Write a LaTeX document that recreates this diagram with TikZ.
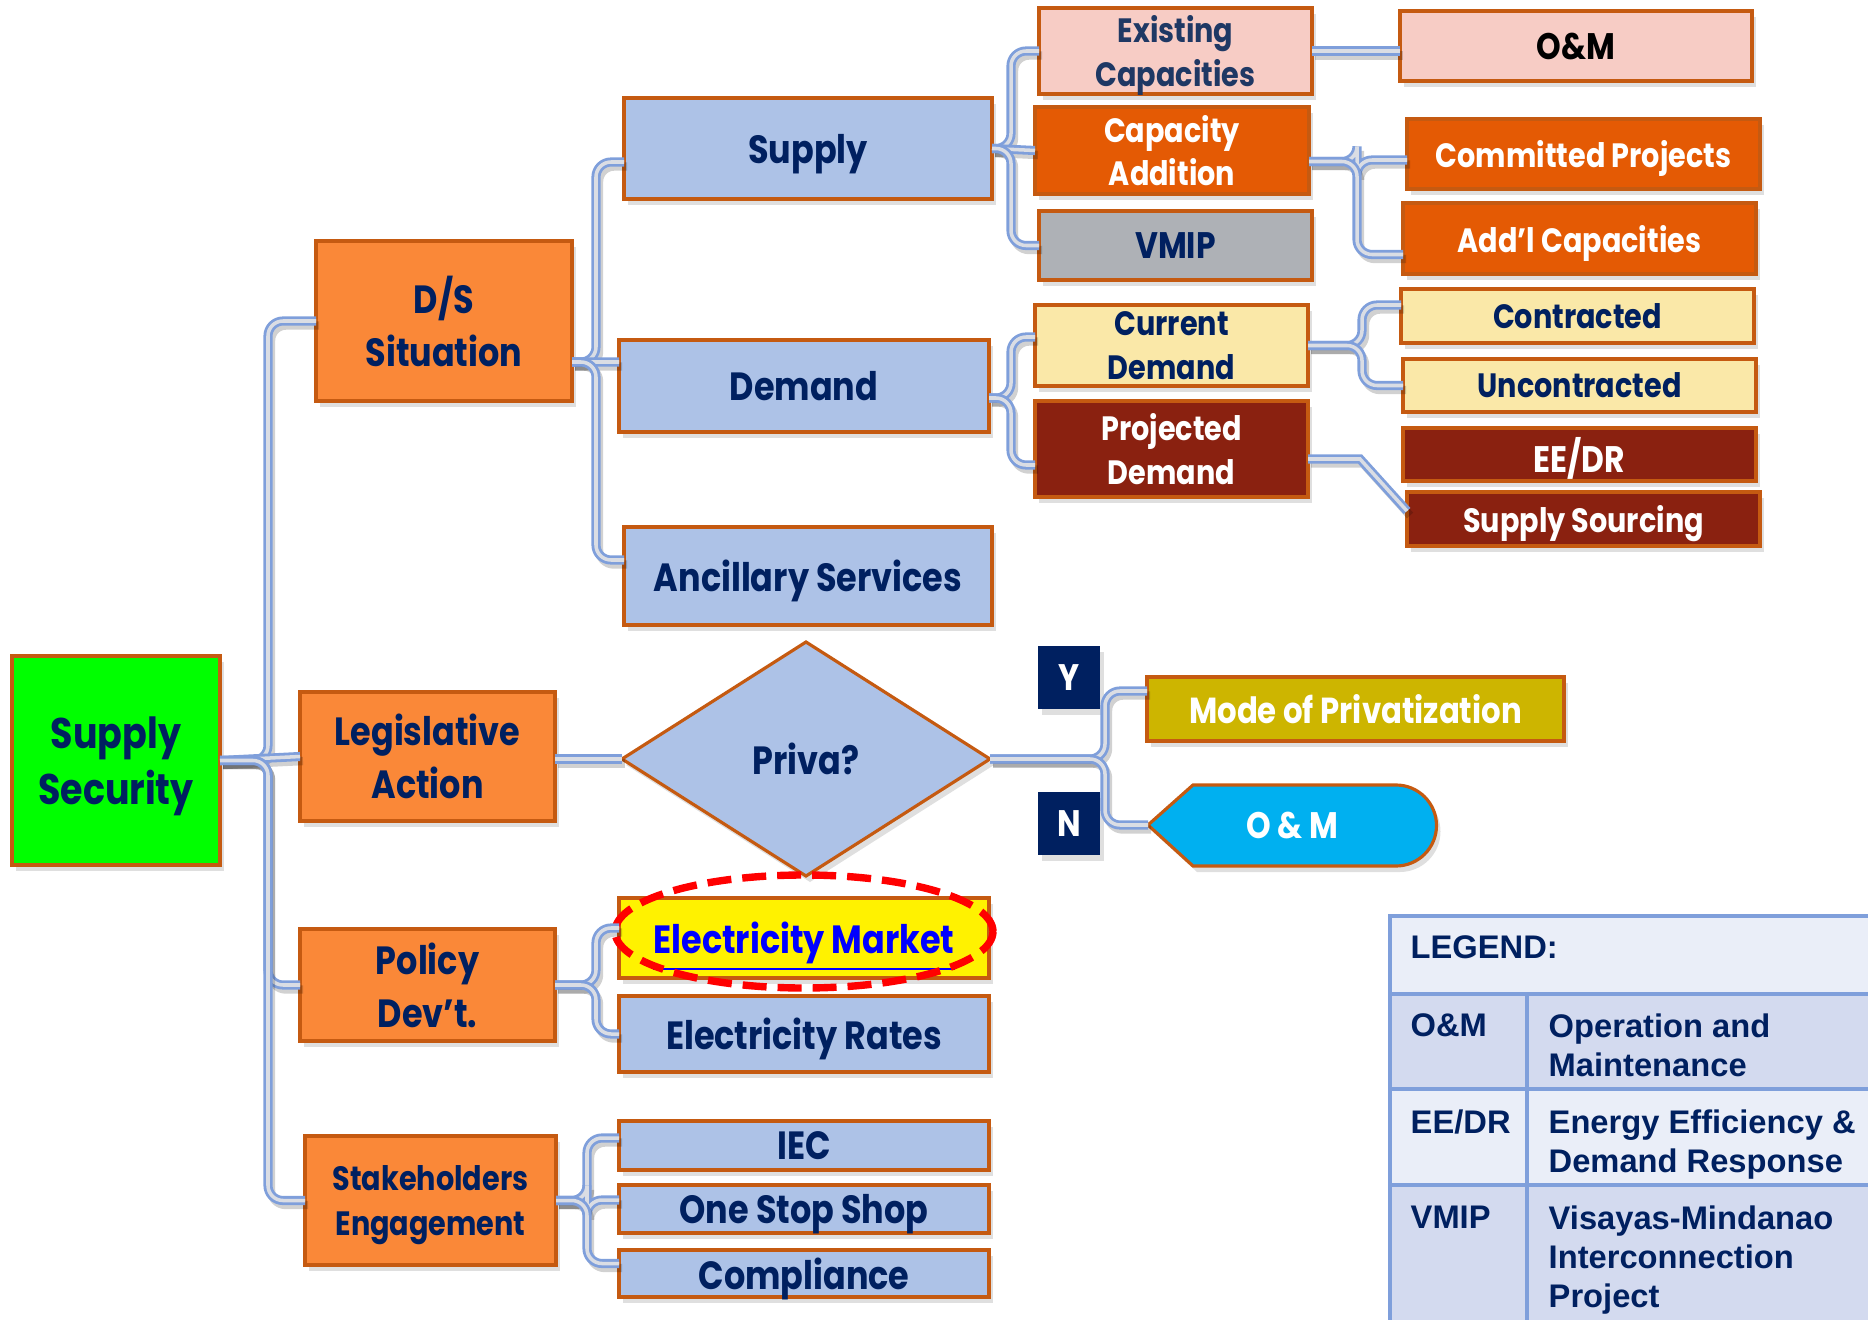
\documentclass[tikz,border=0pt]{standalone}
\usepackage{fontspec}
\newfontfamily\boxfont[FakeStretch=0.85]{Poppins}
\newfontfamily\legfont{Liberation Sans}
\usetikzlibrary{shapes.geometric, shadows, positioning}

\definecolor{navy}{RGB}{0,32,96}
\definecolor{rim}{RGB}{197,90,17}
\definecolor{linkblue}{RGB}{127,159,219}
\definecolor{linkcore}{RGB}{218,221,228}
\definecolor{boxgreen}{RGB}{0,255,0}
\definecolor{boxorange}{RGB}{250,136,56}
\definecolor{boxblue}{RGB}{173,194,231}
\definecolor{boxpink}{RGB}{247,204,197}
\definecolor{boxrust}{RGB}{228,90,4}
\definecolor{boxgrey}{RGB}{174,177,182}
\definecolor{boxcream}{RGB}{250,232,168}
\definecolor{boxmaroon}{RGB}{138,33,16}
\definecolor{boxolive}{RGB}{205,181,0}
\definecolor{boxcyan}{RGB}{0,176,240}
\definecolor{leglight}{RGB}{234,238,248}
\definecolor{legdark}{RGB}{211,218,239}

\tikzset{
  box/.style={draw=rim, line width=0.9pt, inner sep=0pt, outer sep=0pt, align=center, text=navy, text depth=0pt,
    drop shadow={shadow xshift=0.4mm, shadow yshift=-0.6mm, opacity=0.25}},
  lvA/.style={box, font=\boxfont\bfseries\fontsize{12.2}{16}\selectfont},
  lvB/.style={box, font=\boxfont\bfseries\fontsize{11.2}{15}\selectfont},
  lvC/.style={box, font=\boxfont\bfseries\fontsize{11.2}{14}\selectfont},
  lvD/.style={box, font=\boxfont\bfseries\fontsize{9.6}{12.5}\selectfont},
  lvE/.style={box, font=\boxfont\bfseries\fontsize{9.6}{12.6}\selectfont},
  lvcap/.style={box, font=\boxfont\bfseries\fontsize{10.5}{12.5}\selectfont},
  link/.style={draw=linkblue, line width=0.8pt, double=linkcore, double distance=1pt, rounded corners=1.5mm,
    preaction={draw=black, opacity=0.18, line width=2.4pt, transform canvas={xshift=0.3mm, yshift=-0.45mm}}},
  hilite/.style={draw=red, line width=2.1pt, dash pattern=on 2.4mm off 1.1mm},
  legtext/.style={anchor=north west, inner sep=0pt, align=left, text=navy, font=\legfont\bfseries\fontsize{9.3}{11.1}\selectfont}
}

\begin{document}
\begin{tikzpicture}[x=1mm, y=-1mm]
\useasboundingbox (0,0) rectangle (186.8,132);

% root and second level
\node[lvA, fill=boxgreen, minimum width=20.8mm, minimum height=20.9mm] (ss) at (11.6,76.05) {Supply\\Security};
\node[lvB, fill=boxorange, minimum width=25.6mm, minimum height=16mm] (ds) at (44.4,32.1) {D/S\\Situation};
\node[lvB, fill=boxorange, minimum width=25.5mm, minimum height=12.9mm] (leg) at (42.75,75.65) {Legislative\\Action};
\node[lvB, fill=boxorange, minimum width=25.5mm, minimum height=11.2mm] (pol) at (42.75,98.5) {Policy\\Dev’t.};
\node[lvE, fill=boxorange, minimum width=25.1mm, minimum height=12.9mm] (stk) at (43.05,120.05) {Stakeholders\\Engagement};

% third level
\node[lvC, fill=boxblue, minimum width=36.8mm, minimum height=10.1mm] (sup) at (80.8,14.85) {Supply};
\node[lvC, fill=boxblue, minimum width=37mm, minimum height=9.2mm] (dem) at (80.4,38.6) {Demand};
\node[lvC, fill=boxblue, minimum width=36.8mm, minimum height=9.8mm] (anc) at (80.8,57.6) {Ancillary Services};
\node[lvC, diamond, fill=boxblue, minimum width=36.8mm, minimum height=23.4mm] (priva) at (80.6,75.9) {Priva?};
\node[lvC, fill=yellow, text=blue, minimum width=37mm, minimum height=8mm] (em) at (80.4,93.8) {\underline{Electricity Market}};
\node[lvC, fill=boxblue, minimum width=37mm, minimum height=7.6mm] (rates) at (80.4,103.4) {Electricity Rates};
\node[lvC, fill=boxblue, minimum width=37mm, minimum height=4.9mm] (iec) at (80.4,114.55) {IEC};
\node[lvC, fill=boxblue, minimum width=37mm, minimum height=4.8mm] (oss) at (80.4,120.9) {One Stop Shop};
\node[lvC, fill=boxblue, minimum width=37mm, minimum height=4.7mm] (comp) at (80.4,127.35) {Compliance};
\draw[hilite] ([yshift=0.65mm]em.center) ellipse [x radius=18.9mm, y radius=5.65mm];

% fourth level
\node[lvD, fill=boxpink, text={rgb,255:red,31;green,56;blue,100}, minimum width=27.3mm, minimum height=8.6mm] (exist) at (117.55,5.1) {Existing\\Capacities};
\node[lvD, fill=boxrust, text=white, minimum width=27.4mm, minimum height=8.7mm] (capadd) at (117.2,15.05) {Capacity\\Addition};
\node[lvcap, fill=boxgrey, minimum width=27.3mm, minimum height=6.9mm] (vmip) at (117.55,24.55) {VMIP};
\node[lvD, fill=boxcream, minimum width=27.3mm, minimum height=8.1mm] (cur) at (117.15,34.55) {Current\\Demand};
\node[lvD, fill=boxmaroon, text=white, minimum width=27.3mm, minimum height=9.6mm] (proj) at (117.15,44.9) {Projected\\Demand};

% fifth level
\node[lvcap, fill=boxpink, text=black, minimum width=35.2mm, minimum height=7mm] (om1) at (157.6,4.6) {O\&M};
\node[lvE, fill=boxrust, text=white, minimum width=35.3mm, minimum height=7mm] (com) at (158.35,15.4) {Committed Projects};
\node[lvE, fill=boxrust, text=white, minimum width=35.3mm, minimum height=7.1mm] (addl) at (157.95,23.85) {Add’l Capacities};
\node[lvE, fill=boxcream, minimum width=35.3mm, minimum height=5.4mm] (con) at (157.75,31.6) {Contracted};
\node[lvE, fill=boxcream, minimum width=35.3mm, minimum height=5.3mm] (unc) at (157.95,38.55) {Uncontracted};
\node[lvcap, fill=boxmaroon, text=white, minimum width=35.3mm, minimum height=5.3mm] (eedr) at (157.95,45.45) {EE/DR};
\node[lvE, fill=boxmaroon, text=white, minimum width=35.3mm, minimum height=5.4mm] (ssrc) at (158.35,51.9) {Supply Sourcing};

% privatization branch
\node[lvcap, draw=none, fill=navy, text=white, minimum width=6.2mm, minimum height=6.3mm] (yes) at (106.9,67.75) {Y};
\node[lvcap, draw=none, fill=navy, text=white, minimum width=6.2mm, minimum height=6.3mm] (no) at (106.9,82.35) {N};
\node[lvE, fill=boxolive, text=white, minimum width=41.7mm, minimum height=6.4mm, font=\boxfont\bfseries\fontsize{10.3}{12.5}\selectfont] (mode) at (135.55,70.9) {Mode of Privatization};
\draw[draw=rim, line width=0.9pt, fill=boxcyan, drop shadow={shadow xshift=0.4mm, shadow yshift=-0.6mm, opacity=0.25}]
  (114.8,82.5) -- (119.3,78.5) -- (139.6,78.5) arc[start angle=90, end angle=-90, radius=4.05mm] -- (119.3,86.6) -- cycle;
\coordinate (omtip) at (114.8,82.5);
\node[font=\boxfont\bfseries\fontsize{10.5}{12.5}\selectfont, text=white] (omtag) at (129.2,82.5) {O \& M};

% connectors
\draw[link] (ss.east) -- ++(4.8,0) |- (ds.west);
\draw[link] (ss.east) -- (leg.west);
\draw[link] (ss.east) -- ++(4.8,0) |- (pol.west);
\draw[link] (ss.east) -- ++(4.8,0) |- (stk.west);
\draw[link] ([yshift=-4.1mm]ds.east) -- ++(2.4,0) |- ([yshift=-1.35mm]sup.west);
\draw[link] ([yshift=-4.1mm]ds.east) -- ([yshift=2.4mm]dem.west);
\draw[link] ([yshift=-4.1mm]ds.east) -- ++(2.4,0) |- ([yshift=1.6mm]anc.west);
\draw[link] (sup.east) -- ++(1.9,0) |- (exist.west);
\draw[link] (sup.east) -- (capadd.west);
\draw[link] (sup.east) -- ++(1.9,0) |- (vmip.west);
\draw[link] ([yshift=-1.2mm]dem.east) -- ++(2.2,0) |- ([yshift=0.85mm]cur.west);
\draw[link] ([yshift=-1.2mm]dem.east) -- ++(2.2,0) |- ([yshift=-1.6mm]proj.west);
\draw[link] (exist.east) -- (exist.east -| om1.west);
\draw[link] ([yshift=-1.1mm]capadd.east) -- ++(4.8,0) |- ([yshift=-0.6mm]com.west);
\draw[link] ([yshift=-1.1mm]capadd.east) -- ++(4.8,0) |- ([yshift=-1.6mm]addl.west);
\draw[link] (cur.east) -- ++(5.4,0) |- ([yshift=1.1mm]con.west);
\draw[link] (cur.east) -- ++(5.4,0) |- (unc.west);
\draw[link, rounded corners=0pt] ([yshift=-1mm]proj.east) -- ++(5.2,0) -- ([yshift=0.8mm]ssrc.west);
\draw[link] (leg.east |- priva.west) -- (priva.west);
\draw[link] (priva.east) -- ++(11.5,0) |- ([yshift=1.8mm]mode.west);
\draw[link] (priva.east) -- ++(11.5,0) |- (omtip);
\draw[link] (pol.east) -- ++(4.1,0) |- ([yshift=1mm]em.west);
\draw[link] (pol.east) -- ++(4.1,0) |- (rates.west);
\draw[link] (stk.east) -- ++(3.1,0) |- ([yshift=0.75mm]iec.west);
\draw[link] (stk.east) -- ++(3.1,0) |- ([yshift=0.9mm]oss.west);
\draw[link] (stk.east) -- ++(3.1,0) |- ([yshift=1mm]comp.west);

% legend
\fill[leglight] (139,91.6) rectangle (186.8,99.4);
\fill[legdark] (139,99.4) rectangle (186.8,108.9);
\fill[leglight] (139,108.9) rectangle (186.8,118.5);
\fill[legdark] (139,118.5) rectangle (186.8,132);
\draw[linkblue, line width=0.9pt] (186.8,91.6) -- (139,91.6) -- (139,132);
\foreach \y in {99.4,108.9,118.5}
  \draw[linkblue, line width=0.9pt] (139,\y) -- (186.8,\y);
\draw[linkblue, line width=0.9pt] (152.7,99.4) -- (152.7,132);
\node[legtext] (lghead) at (141,93.5) {LEGEND:};
\node[legtext] (lgom) at (141,101.3) {O\&M};
\node[legtext] (lgomtx) at (154.8,101.3) {Operation and\\Maintenance};
\node[legtext] (lgee) at (141,110.9) {EE/DR};
\node[legtext] (lgeetx) at (154.8,110.9) {Energy Efficiency \&\\Demand Response};
\node[legtext] (lgvm) at (141,120.5) {VMIP};
\node[legtext] (lgvmtx) at (154.8,120.5) {Visayas-Mindanao\\Interconnection\\Project};
\end{tikzpicture}
\end{document}
